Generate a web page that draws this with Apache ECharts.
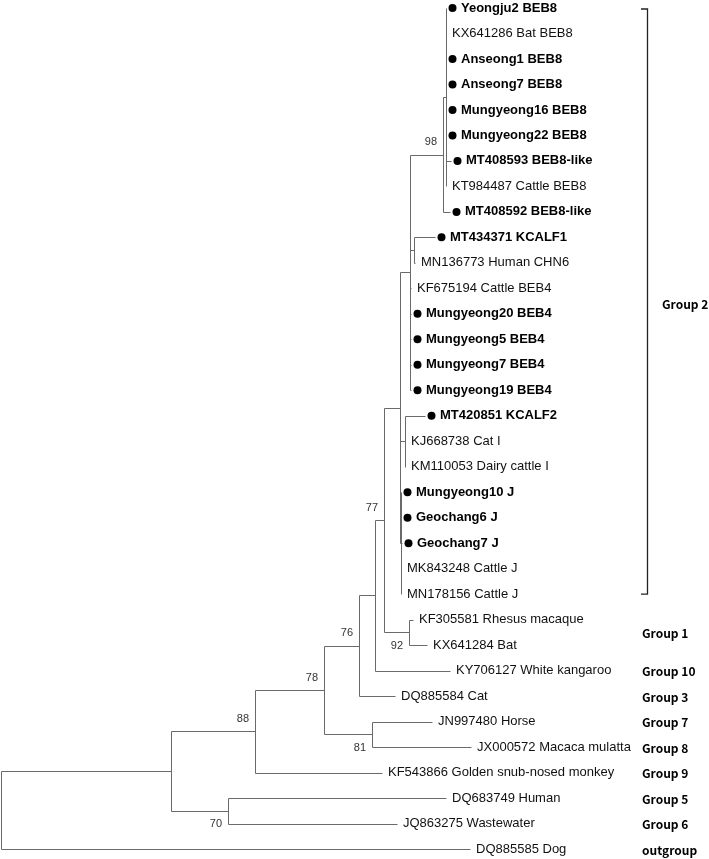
<!DOCTYPE html>
<html><head><meta charset="utf-8">
<script src="https://cdn.jsdelivr.net/npm/echarts@6/dist/echarts.min.js"></script>
<style>html,body{margin:0;padding:0;background:#fff}#c{width:709px;height:859px}</style>
</head><body><div id="c"></div>
<script>
// ---- leaves, top to bottom ----
const leafNames = [
  'Yeongju2 BEB8','KX641286 Bat BEB8','Anseong1 BEB8','Anseong7 BEB8','Mungyeong16 BEB8',
  'Mungyeong22 BEB8','MT408593 BEB8-like','KT984487 Cattle BEB8','MT408592 BEB8-like',
  'MT434371 KCALF1','MN136773 Human CHN6','KF675194 Cattle BEB4','Mungyeong20 BEB4',
  'Mungyeong5 BEB4','Mungyeong7 BEB4','Mungyeong19 BEB4','MT420851 KCALF2','KJ668738 Cat I',
  'KM110053 Dairy cattle I','Mungyeong10 J','Geochang6 J','Geochang7 J','MK843248 Cattle J',
  'MN178156 Cattle J','KF305581 Rhesus macaque','KX641284 Bat','KY706127 White kangaroo',
  'DQ885584 Cat','JN997480 Horse','JX000572 Macaca mulatta','KF543866 Golden snub-nosed monkey',
  'DQ683749 Human','JQ863275 Wastewater','DQ885585 Dog'
];
const leafParents = ['B','B','B','B','B','B','B','B','A98','D','D','C','C','C','C','C','E','E','E',
  'X2','X2','X2','X2','X2','N92','N92','N75','N76','N81','N81','N88','N70','N70','root'];
// cumulative distance from root (tip position)
const leafDepths = [0.445,0.445,0.445,0.445,0.445,0.445,0.450,0.445,0.449,0.434,0.414,0.410,0.410,
  0.410,0.410,0.410,0.424,0.404,0.404,0.400,0.400,0.401,0.400,0.400,0.412,0.426,0.449,0.394,0.431,
  0.470,0.381,0.445,0.396,0.469];

// samples of this study (marked with a dot, bold)
const studySamples = ['Yeongju2 BEB8','Anseong1 BEB8','Anseong7 BEB8','Mungyeong16 BEB8','Mungyeong22 BEB8',
  'MT408593 BEB8-like','MT408592 BEB8-like','MT434371 KCALF1','Mungyeong20 BEB4','Mungyeong5 BEB4',
  'Mungyeong7 BEB4','Mungyeong19 BEB4','MT420851 KCALF2','Mungyeong10 J','Geochang6 J','Geochang7 J'];

// ---- internal nodes ----
const internalIds     = ['root','P','N88','N70','N78','N81','N76','N75','N77','N92','X','X2','C','E','D','A98','B'];
const internalParents = [null,'root','P','P','N88','N78','N78','N76','N75','N77','N77','X','X','X','C','C','A98'];
const internalDepths  = [0,0.170,0.254,0.227,0.323,0.371,0.358,0.374,0.383,0.408,0.399,0.400,0.409,0.404,0.413,0.442,0.445];

// ---- bootstrap support ----
const bootstrapNodes  = ['A98','N77','N76','N78','N88','N92','N81','N70'];
const bootstrapValues = [98,77,76,78,88,92,81,70];

// ---- groups ----
const groupNames     = ['Group 2','Group 1','Group 10','Group 3','Group 7','Group 8','Group 9','Group 5','Group 6','outgroup'];
const groupFirstLeaf = [0,24,26,27,28,29,30,31,32,33];
const groupLastLeaf  = [23,25,26,27,28,29,30,31,32,33];
const bracketedGroups = ['Group 2'];

// ---- styles ----
const belowLabelNodes = ['N92','N81','N70'];
const LINE = '#6a6a6a';
const FONT = '"Liberation Sans", Arial, sans-serif';
const GFONT = '"Noto Sans CJK KR", "Noto Sans", sans-serif';

// ---- layout (tree topology) ----
const nodes = {};
internalIds.forEach((id, i) => nodes[id] = {depth: internalDepths[i], parent: internalParents[i], children: []});
leafNames.forEach((n, i) => nodes['L' + i] = {depth: leafDepths[i], parent: leafParents[i], y: i, children: []});
Object.keys(nodes).forEach(id => { const p = nodes[id].parent; if (p) nodes[p].children.push(id); });
function getY(id) {
  const n = nodes[id];
  if (n.y !== undefined) return n.y;
  const ys = n.children.map(getY);
  n.y = (Math.min(...ys) + Math.max(...ys)) / 2;
  return n.y;
}
getY('root');
const segments = [];
Object.keys(nodes).forEach(id => {
  const n = nodes[id];
  if (n.parent) segments.push([nodes[n.parent].depth, n.y, n.depth, n.y]);
  if (n.children.length) {
    const ys = n.children.map(c => nodes[c].y);
    segments.push([n.depth, Math.min(...ys), n.depth, Math.max(...ys)]);
  }
});

const chart = echarts.init(document.getElementById('c'), null, {renderer: 'canvas'});
const crisp = v => Math.round(v) + 0.5;

chart.setOption({
  animation: false,
  backgroundColor: '#fff',
  grid: {left: 1, right: 0, top: 8, bottom: 10},
  xAxis: {type: 'value', min: 0, max: 0.708, show: false},
  yAxis: {type: 'value', min: 0, max: 33, inverse: true, show: false},
  series: [
    {
      type: 'custom', clip: false, silent: true,
      data: segments,
      renderItem: (params, api) => {
        const s = segments[params.dataIndex];
        const a = api.coord([s[0], s[1]]), b = api.coord([s[2], s[3]]);
        return {type: 'line', shape: {x1: crisp(a[0]), y1: crisp(a[1]), x2: crisp(b[0]), y2: crisp(b[1])},
                style: {stroke: LINE, lineWidth: 1}};
      }
    },
    {
      type: 'custom', clip: false, silent: true,
      data: leafNames.map((n, i) => [leafDepths[i], i]),
      renderItem: (params, api) => {
        const i = params.dataIndex;
        const name = leafNames[i];
        const p = api.coord([leafDepths[i], i]);
        if (studySamples.includes(name)) {
          return {type: 'group', children: [
            {type: 'circle', shape: {cx: p[0] + 6.5, cy: p[1], r: 4}, style: {fill: '#000'}},
            {type: 'text', x: p[0] + 15, y: p[1], style: {text: name, fill: '#000', font: 'bold 13px ' + FONT, align: 'left', verticalAlign: 'middle'}}
          ]};
        }
        return {type: 'text', x: p[0] + 6, y: p[1], style: {text: name, fill: '#111', font: '13px ' + FONT, align: 'left', verticalAlign: 'middle'}};
      }
    },
    {
      type: 'custom', clip: false, silent: true,
      data: bootstrapNodes.map(id => [nodes[id].depth, nodes[id].y]),
      renderItem: (params, api) => {
        const id = bootstrapNodes[params.dataIndex];
        const p = api.coord([nodes[id].depth, nodes[id].y]);
        const below = belowLabelNodes.includes(id);
        return {type: 'text', x: p[0] - 6, y: p[1] + (below ? 13.5 : -12.5),
                style: {text: String(bootstrapValues[params.dataIndex]), fill: '#333', font: '11px ' + FONT, align: 'right', verticalAlign: 'middle'}};
      }
    },
    {
      type: 'custom', clip: false, silent: true,
      data: groupNames.map((g, i) => [0, (groupFirstLeaf[i] + groupLastLeaf[i]) / 2]),
      renderItem: (params, api) => {
        const i = params.dataIndex;
        const g = groupNames[i];
        const yc = api.coord([0, (groupFirstLeaf[i] + groupLastLeaf[i]) / 2])[1];
        if (bracketedGroups.includes(g)) {
          const y1 = api.coord([0, groupFirstLeaf[i]])[1] + 1;
          const y2 = api.coord([0, groupLastLeaf[i]])[1];
          const bx = 647.5;
          return {type: 'group', children: [
            {type: 'polyline', shape: {points: [[641, y1], [bx, y1], [bx, y2], [641, y2]]}, style: {stroke: '#222', lineWidth: 1.3, fill: null}},
            {type: 'text', x: 662, y: yc + 3, style: {text: g, fill: '#000', font: 'bold 12px ' + GFONT, align: 'left', verticalAlign: 'middle'}}
          ]};
        }
        return {type: 'text', x: 642, y: yc + 1, style: {text: g, fill: '#000', font: 'bold 12px ' + GFONT, align: 'left', verticalAlign: 'middle'}};
      }
    }
  ]
});
</script></body></html>
